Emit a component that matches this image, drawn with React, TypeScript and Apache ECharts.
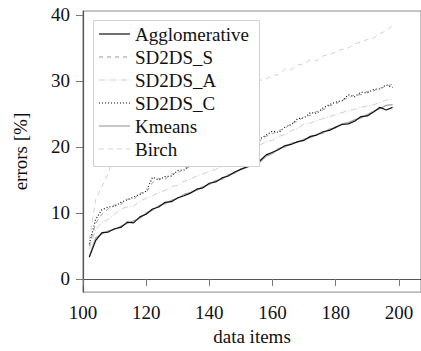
import React, { useEffect, useRef } from "react";
import * as echarts from "echarts";

const xs = [102,104,106,108,110,112,114,116,118,120,122,124,126,128,130,132,134,136,138,140,142,144,146,148,150,152,154,156,158,160,162,164,166,168,170,172,174,176,178,180,182,184,186,188,190,192,194,196,198];

const agglomerative = [3.3,5.8,7.0,7.1,7.6,7.8,8.6,8.5,9.4,9.8,10.6,10.9,11.6,11.7,12.3,12.6,13.0,13.6,13.8,14.5,14.7,15.3,15.6,16.2,16.6,17.0,17.6,17.9,18.8,19.2,19.6,20.2,20.4,20.8,21.0,21.6,21.8,22.3,22.5,23.0,23.4,23.5,23.9,24.6,24.7,25.3,26.0,25.6,26.0];
const sd2dsS = [5.0,8.4,9.8,10.6,11.2,11.3,12.1,12.0,13.0,13.1,14.6,15.2,15.1,15.9,16.0,16.8,16.9,17.4,17.5,18.0,18.1,18.6,18.7,19.2,19.2,19.7,19.9,20.9,21.6,22.0,22.5,22.8,23.6,23.9,24.6,24.8,25.4,25.6,26.2,26.5,27.1,27.4,27.9,27.9,28.4,28.5,28.9,29.2,29.5];
const sd2dsA = [4.5,7.5,8.6,9.0,9.8,10.6,10.9,11.0,11.8,12.2,12.6,13.1,13.4,14.0,14.2,14.8,15.1,15.6,15.9,16.3,16.6,17.0,17.4,17.7,18.1,18.4,18.9,20.3,20.8,21.0,21.6,21.9,22.5,22.8,23.5,23.6,24.0,24.3,24.6,24.9,25.2,25.5,25.7,26.0,26.2,26.4,26.7,27.1,27.2];
const sd2dsC = [5.3,9.0,10.5,10.9,11.0,11.6,12.0,12.4,12.8,13.3,15.4,15.0,15.5,15.6,16.4,16.5,17.2,17.1,17.6,17.9,18.2,18.5,18.8,19.0,19.3,19.6,19.8,21.2,21.8,22.4,22.2,23.0,23.4,24.3,24.4,25.2,25.1,25.9,26.4,26.8,27.0,27.9,27.6,28.3,28.2,28.7,28.8,29.4,29.0];
const kmeans = [3.4,6.2,6.8,7.3,7.5,8.0,8.4,8.8,9.2,10.0,10.4,11.1,11.4,11.9,12.2,12.8,13.1,13.4,14.0,14.3,14.9,15.1,15.8,16.0,16.7,16.9,17.4,17.7,18.6,19.0,19.8,20.0,20.6,20.7,21.2,21.4,21.9,22.1,22.7,22.9,23.5,23.7,24.1,24.4,24.9,25.4,25.8,26.3,26.4];
const birch = [6.0,12.0,14.0,16.0,19.0,20.0,20.6,21.2,21.5,22.0,22.6,23.0,23.4,23.9,24.3,24.7,25.2,25.5,26.0,26.4,26.8,27.2,27.6,28.0,28.3,28.7,29.0,30.1,30.3,30.8,31.0,31.8,31.7,32.4,32.6,33.2,33.1,33.8,34.0,34.4,34.8,35.0,35.6,35.9,36.3,36.5,37.2,37.6,38.4];

const seriesNames = ["Agglomerative", "SD2DS_S", "SD2DS_A", "SD2DS_C", "Kmeans", "Birch"];
const seriesValues = [agglomerative, sd2dsS, sd2dsA, sd2dsC, kmeans, birch];
const xTicks = [100, 120, 140, 160, 180, 200];
const yTicks = [0, 10, 20, 30, 40];

const styles = [
  { color: "#111111", dash: "solid" as any, width: 1.2 },
  { color: "#9a9a9a", dash: [4, 4] as any, width: 1 },
  { color: "#cfcfcf", dash: [6, 2, 1, 2] as any, width: 1 },
  { color: "#111111", dash: [1, 2] as any, width: 1.2 },
  { color: "#a0a0a0", dash: "solid" as any, width: 1.2 },
  { color: "#d2d2d2", dash: [5, 4] as any, width: 1 },
];

const FONT = "'Liberation Serif', 'Times New Roman', 'DejaVu Serif', serif";

export default function App() {
  const ref = useRef<HTMLDivElement>(null);
  useEffect(() => {
    if (!ref.current) return;
    const chart = echarts.init(ref.current, undefined, { renderer: "svg" });
    const legendTop = 20;
    const rowH = 23;
    const legendEls: any[] = [
      {
        type: "rect",
        shape: { x: 93.5, y: 20.5, width: 166, height: 146 },
        style: { fill: "#ffffff", stroke: "#d0d0d0", lineWidth: 1 },
        z: 100,
      },
    ];
    seriesNames.forEach((name, i) => {
      const cy = legendTop + 14 + rowH * i;
      legendEls.push({
        type: "line",
        shape: { x1: 99, y1: cy, x2: 130, y2: cy },
        style: {
          stroke: styles[i].color,
          lineWidth: styles[i].width,
          lineDash: styles[i].dash === "solid" ? null : styles[i].dash,
        },
        z: 101,
      });
      legendEls.push({
        type: "text",
        x: 135,
        y: cy,
        style: {
          text: name,
          fontFamily: FONT,
          fontSize: 19,
          fill: "#111111",
          verticalAlign: "middle",
          align: "left",
        },
        z: 101,
      });
    });

    chart.setOption({
      animation: false,
      backgroundColor: "#ffffff",
      grid: {
        left: 83,
        top: 11,
        width: 339,
        height: 287,
        show: true,
        borderColor: "#8a8a8a",
        borderWidth: 1,
      },
      xAxis: {
        type: "value",
        min: 100,
        max: 207,
        name: "data items",
        nameLocation: "middle",
        nameGap: 29,
        nameTextStyle: { fontFamily: FONT, fontSize: 19, color: "#111" },
        axisLine: { show: true, lineStyle: { color: "#555", width: 1.2 } },
        axisTick: {
          show: true,
          inside: false,
          length: 7,
          customValues: xTicks,
          lineStyle: { color: "#777" },
        },
        axisLabel: {
          customValues: xTicks,
          margin: 11,
          fontFamily: FONT,
          fontSize: 19,
          color: "#111",
        },
        splitLine: { show: false },
      },
      yAxis: {
        type: "value",
        min: -2,
        max: 40.6,
        name: "errors [%]",
        nameLocation: "middle",
        nameGap: 53,
        nameTextStyle: { fontFamily: FONT, fontSize: 19, color: "#111" },
        axisLine: { show: true, lineStyle: { color: "#555", width: 1.2 } },
        axisTick: {
          show: true,
          inside: false,
          length: 7,
          customValues: yTicks,
          lineStyle: { color: "#777" },
        },
        axisLabel: {
          customValues: yTicks,
          margin: 13,
          fontFamily: FONT,
          fontSize: 19,
          color: "#111",
        },
        splitLine: { show: false },
      },
      series: seriesNames.map((name, i) => ({
        name,
        type: "line",
        data: xs.map((x, j) => [x, seriesValues[i][j]]),
        showSymbol: false,
        symbol: "none",
        lineStyle: {
          color: styles[i].color,
          width: styles[i].width,
          type: styles[i].dash,
        },
        z: 10 - i,
      })),
      graphic: legendEls,
    });
    return () => chart.dispose();
  }, []);
  return (
    <div
      ref={ref}
      style={{ position: "fixed", left: 0, top: 0, width: 421, height: 351, background: "#fff" }}
    />
  );
}
